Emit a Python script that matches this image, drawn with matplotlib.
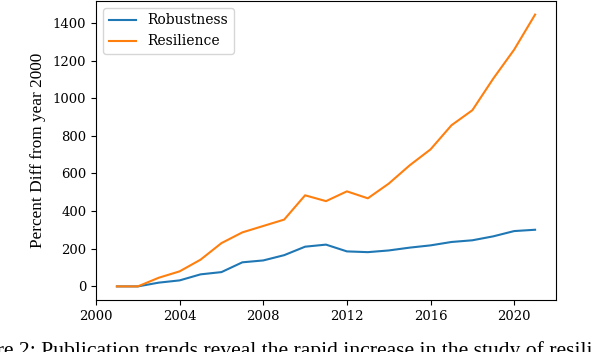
import matplotlib
matplotlib.use("Agg")
import matplotlib.pyplot as plt

years = list(range(2001, 2022))
robustness = [0, 0, 20, 32, 64, 76, 128, 138, 166, 211, 222, 186, 182, 191, 206, 218, 236, 245, 266, 294, 301]
resilience = [0, 0, 46, 80, 142, 230, 287, 321, 355, 484, 453, 505, 468, 546, 643, 728, 856, 936, 1104, 1258, 1444]
xticks = [2000, 2004, 2008, 2012, 2016, 2020]

plt.rcParams['font.family'] = ['DejaVu Serif']
plt.rcParams['font.size'] = 9.5

fig = plt.figure(figsize=(5.92, 3.52), dpi=100)
ax = fig.add_axes([96/592, 1 - 300/352, 460/592, 299/352])

ax.plot(years, robustness, color="#1f77b4", linewidth=1.5, label="Robustness")
ax.plot(years, resilience, color="#ff7f0e", linewidth=1.5, label="Resilience")
ax.set_xticks(xticks)
ax.set_xlim(2000, 2022)
ax.set_ylabel("Percent Diff from year 2000", family="Liberation Serif", fontsize=12.4, labelpad=5)
ax.legend(loc="upper left", fontsize=10)

# caption of the paper figure, cut off by the crop
fig.text(-0.072, -0.011, "Figure 2: Publication trends reveal the rapid increase in the study of resilience",
         family="Liberation Serif", fontsize=15.6, ha="left", va="baseline")

fig.savefig("out.png", dpi=100)
